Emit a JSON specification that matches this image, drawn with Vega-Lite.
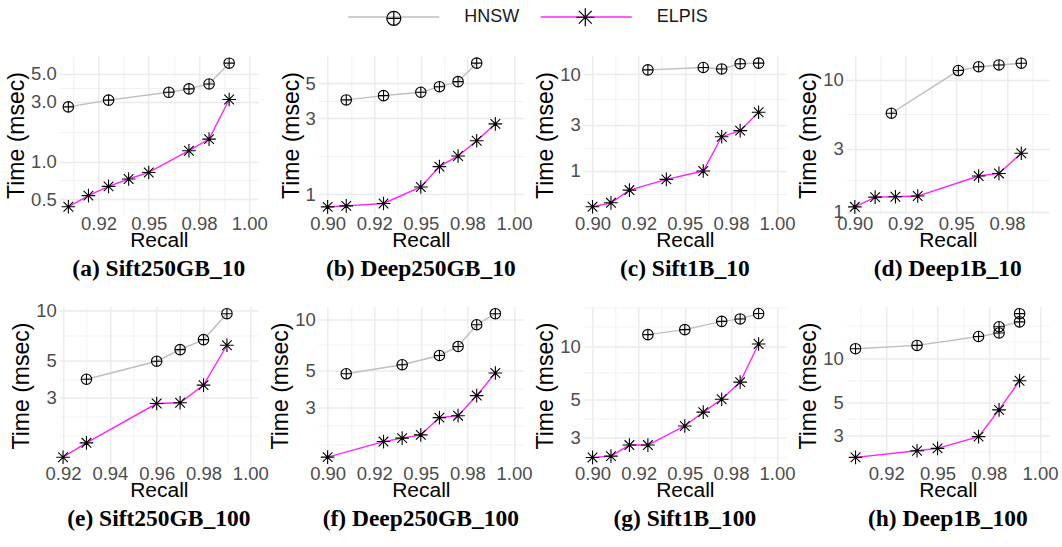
{
  "$schema": "https://vega.github.io/schema/vega-lite/v6.json",
  "background": "white",
  "padding": {"left": 5.3, "top": 8, "right": 0, "bottom": 0},
  "autosize": {"type": "pad"},
  "datasets": {
    "a": [
      {"recall": 0.91, "time": 2.73, "method": "HNSW"},
      {"recall": 0.93, "time": 3.09, "method": "HNSW"},
      {"recall": 0.96, "time": 3.57, "method": "HNSW"},
      {"recall": 0.97, "time": 3.80, "method": "HNSW"},
      {"recall": 0.98, "time": 4.16, "method": "HNSW"},
      {"recall": 0.99, "time": 6.1, "method": "HNSW"},
      {"recall": 0.91, "time": 0.435, "method": "ELPIS"},
      {"recall": 0.92, "time": 0.534, "method": "ELPIS"},
      {"recall": 0.93, "time": 0.633, "method": "ELPIS"},
      {"recall": 0.94, "time": 0.725, "method": "ELPIS"},
      {"recall": 0.95, "time": 0.818, "method": "ELPIS"},
      {"recall": 0.97, "time": 1.22, "method": "ELPIS"},
      {"recall": 0.98, "time": 1.51, "method": "ELPIS"},
      {"recall": 0.99, "time": 3.13, "method": "ELPIS"}
    ],
    "b": [
      {"recall": 0.91, "time": 3.92, "method": "HNSW"},
      {"recall": 0.93, "time": 4.17, "method": "HNSW"},
      {"recall": 0.95, "time": 4.38, "method": "HNSW"},
      {"recall": 0.96, "time": 4.75, "method": "HNSW"},
      {"recall": 0.97, "time": 5.11, "method": "HNSW"},
      {"recall": 0.98, "time": 6.68, "method": "HNSW"},
      {"recall": 0.90, "time": 0.832, "method": "ELPIS"},
      {"recall": 0.91, "time": 0.844, "method": "ELPIS"},
      {"recall": 0.93, "time": 0.874, "method": "ELPIS"},
      {"recall": 0.95, "time": 1.11, "method": "ELPIS"},
      {"recall": 0.96, "time": 1.49, "method": "ELPIS"},
      {"recall": 0.97, "time": 1.74, "method": "ELPIS"},
      {"recall": 0.98, "time": 2.17, "method": "ELPIS"},
      {"recall": 0.99, "time": 2.77, "method": "ELPIS"}
    ],
    "c": [
      {"recall": 0.93, "time": 11.06, "method": "HNSW"},
      {"recall": 0.96, "time": 11.7, "method": "HNSW"},
      {"recall": 0.97, "time": 11.3, "method": "HNSW"},
      {"recall": 0.98, "time": 12.8, "method": "HNSW"},
      {"recall": 0.99, "time": 12.97, "method": "HNSW"},
      {"recall": 0.90, "time": 0.424, "method": "ELPIS"},
      {"recall": 0.91, "time": 0.466, "method": "ELPIS"},
      {"recall": 0.92, "time": 0.631, "method": "ELPIS"},
      {"recall": 0.94, "time": 0.814, "method": "ELPIS"},
      {"recall": 0.96, "time": 0.993, "method": "ELPIS"},
      {"recall": 0.97, "time": 2.25, "method": "ELPIS"},
      {"recall": 0.98, "time": 2.60, "method": "ELPIS"},
      {"recall": 0.99, "time": 4.03, "method": "ELPIS"}
    ],
    "d": [
      {"recall": 0.918, "time": 5.56, "method": "HNSW"},
      {"recall": 0.951, "time": 11.7, "method": "HNSW"},
      {"recall": 0.961, "time": 12.5, "method": "HNSW"},
      {"recall": 0.971, "time": 12.9, "method": "HNSW"},
      {"recall": 0.982, "time": 13.3, "method": "HNSW"},
      {"recall": 0.90, "time": 1.09, "method": "ELPIS"},
      {"recall": 0.91, "time": 1.29, "method": "ELPIS"},
      {"recall": 0.92, "time": 1.30, "method": "ELPIS"},
      {"recall": 0.931, "time": 1.315, "method": "ELPIS"},
      {"recall": 0.961, "time": 1.865, "method": "ELPIS"},
      {"recall": 0.971, "time": 1.95, "method": "ELPIS"},
      {"recall": 0.982, "time": 2.77, "method": "ELPIS"}
    ],
    "e": [
      {"recall": 0.93, "time": 3.88, "method": "HNSW"},
      {"recall": 0.96, "time": 4.97, "method": "HNSW"},
      {"recall": 0.97, "time": 5.83, "method": "HNSW"},
      {"recall": 0.98, "time": 6.69, "method": "HNSW"},
      {"recall": 0.99, "time": 9.55, "method": "HNSW"},
      {"recall": 0.92, "time": 1.33, "method": "ELPIS"},
      {"recall": 0.93, "time": 1.62, "method": "ELPIS"},
      {"recall": 0.96, "time": 2.78, "method": "ELPIS"},
      {"recall": 0.97, "time": 2.81, "method": "ELPIS"},
      {"recall": 0.98, "time": 3.58, "method": "ELPIS"},
      {"recall": 0.99, "time": 6.19, "method": "ELPIS"}
    ],
    "f": [
      {"recall": 0.91, "time": 4.75, "method": "HNSW"},
      {"recall": 0.94, "time": 5.38, "method": "HNSW"},
      {"recall": 0.96, "time": 6.11, "method": "HNSW"},
      {"recall": 0.97, "time": 6.92, "method": "HNSW"},
      {"recall": 0.98, "time": 9.33, "method": "HNSW"},
      {"recall": 0.99, "time": 10.86, "method": "HNSW"},
      {"recall": 0.90, "time": 1.51, "method": "ELPIS"},
      {"recall": 0.93, "time": 1.87, "method": "ELPIS"},
      {"recall": 0.94, "time": 1.96, "method": "ELPIS"},
      {"recall": 0.95, "time": 2.05, "method": "ELPIS"},
      {"recall": 0.96, "time": 2.60, "method": "ELPIS"},
      {"recall": 0.97, "time": 2.67, "method": "ELPIS"},
      {"recall": 0.98, "time": 3.52, "method": "ELPIS"},
      {"recall": 0.99, "time": 4.80, "method": "ELPIS"}
    ],
    "g": [
      {"recall": 0.93, "time": 11.67, "method": "HNSW"},
      {"recall": 0.95, "time": 12.46, "method": "HNSW"},
      {"recall": 0.97, "time": 13.9, "method": "HNSW"},
      {"recall": 0.98, "time": 14.35, "method": "HNSW"},
      {"recall": 0.99, "time": 15.4, "method": "HNSW"},
      {"recall": 0.90, "time": 2.32, "method": "ELPIS"},
      {"recall": 0.91, "time": 2.36, "method": "ELPIS"},
      {"recall": 0.92, "time": 2.73, "method": "ELPIS"},
      {"recall": 0.93, "time": 2.73, "method": "ELPIS"},
      {"recall": 0.95, "time": 3.51, "method": "ELPIS"},
      {"recall": 0.96, "time": 4.21, "method": "ELPIS"},
      {"recall": 0.97, "time": 4.99, "method": "ELPIS"},
      {"recall": 0.98, "time": 6.25, "method": "ELPIS"},
      {"recall": 0.99, "time": 10.32, "method": "ELPIS"}
    ],
    "h": [
      {"recall": 0.91, "time": 11.57, "method": "HNSW"},
      {"recall": 0.94, "time": 12.18, "method": "HNSW"},
      {"recall": 0.97, "time": 14.0, "method": "HNSW"},
      {"recall": 0.98, "time": 14.8, "method": "HNSW"},
      {"recall": 0.98, "time": 16.3, "method": "HNSW"},
      {"recall": 0.99, "time": 17.6, "method": "HNSW"},
      {"recall": 0.99, "time": 20.0, "method": "HNSW"},
      {"recall": 0.91, "time": 2.12, "method": "ELPIS"},
      {"recall": 0.94, "time": 2.35, "method": "ELPIS"},
      {"recall": 0.95, "time": 2.44, "method": "ELPIS"},
      {"recall": 0.97, "time": 2.93, "method": "ELPIS"},
      {"recall": 0.98, "time": 4.45, "method": "ELPIS"},
      {"recall": 0.99, "time": 7.01, "method": "ELPIS"}
    ]
  },
  "columns": 4,
  "spacing": {"row": 92.5, "column": 60},
  "bounds": "flush",
  "align": "each",
  "resolve": {"scale": {"color": "shared", "shape": "shared"}},
  "concat": [
    {
      "width": 199, "height": 158, "data": {"name": "a"}, "title": "(a) Sift250GB_10",
      "encoding": {
        "x": {"field": "recall", "type": "quantitative", "title": "Recall", "scale": {"domain": [0.9055, 1.0045], "nice": false, "zero": false},
          "axis": {"values": [0.9125, 0.925, 0.9375, 0.95, 0.9625, 0.975, 0.9875, 1.0],
            "labelExpr": "datum.value == 0.9 ? '0.90' : datum.value == 0.925 ? '0.92' : datum.value == 0.95 ? '0.95' : datum.value == 0.975 ? '0.98' : datum.value == 1 ? '1.00' : ''",
            "gridWidth": {"condition": {"test": "indexof([0.9125, 0.9375, 0.9625, 0.9875], datum.value) >= 0", "value": 0.7}, "value": 1.4}}},
        "y": {"field": "time", "type": "quantitative", "title": "Time (msec)", "scale": {"type": "log", "domain": [0.381, 6.96], "nice": false},
          "axis": {"values": [0.5, 0.7071, 1, 1.7321, 3, 3.873, 5],
            "labelExpr": "datum.value == 0.5 ? '0.5' : datum.value == 1 ? '1.0' : datum.value == 3 ? '3.0' : datum.value == 5 ? '5.0' : ''",
            "gridWidth": {"condition": {"test": "indexof([0.7071, 1.7321, 3.873], datum.value) >= 0", "value": 0.7}, "value": 1.4}}}
      },
      "layer": [
        {"mark": {"type": "line", "strokeWidth": 1.4}, "encoding": {"color": {"field": "method", "type": "nominal", "scale": {"domain": ["HNSW", "ELPIS", "~"], "range": ["#bebebe", "#ff22ff", "#ffffff"]}, "legend": {"values": ["HNSW", "ELPIS"], "title": null, "orient": "none", "legendX": 325.5, "legendY": -48, "direction": "horizontal", "columns": 2, "symbolType": "M-6.5,0L6.5,0", "symbolSize": 196, "symbolStrokeWidth": 1.6, "labelOffset": 61.5, "columnPadding": 17.5, "padding": 0, "labelFont": "Liberation Sans", "labelFontSize": 18, "labelColor": "#1a1a1a"}}}},
        {"mark": {"type": "point", "filled": false, "size": 110, "color": "#000000", "strokeWidth": 1.1, "opacity": 1}, "encoding": {"shape": {"field": "method", "type": "nominal", "scale": {"domain": ["HNSW", "ELPIS"], "range": ["M-6.5,0L-6.49,0M6.49,0L6.5,0M-1,0A1,1,0,1,0,1,0A1,1,0,1,0,-1,0M-1,0L1,0M0,-1L0,1", "M-6.5,0L-6.49,0M6.49,0L6.5,0M-1.3,0L1.3,0M0,-1.3L0,1.3M-0.92,-0.92L0.92,0.92M-0.92,0.92L0.92,-0.92"]}, "legend": {"title": null, "orient": "none", "legendX": 325.5, "legendY": -48, "direction": "horizontal", "columns": 2, "symbolSize": 196, "symbolStrokeWidth": 1.2, "symbolStrokeColor": "#000000", "symbolFillColor": "transparent", "labelOffset": 61.5, "columnPadding": 17.5, "padding": 0, "labelFont": "Liberation Sans", "labelFontSize": 18, "labelOpacity": 0}}}}
      ]
    },
    {
      "width": 205, "height": 158, "data": {"name": "b"}, "title": "(b) Deep250GB_10",
      "encoding": {
        "x": {"field": "recall", "type": "quantitative", "title": "Recall", "scale": {"domain": [0.895, 1.005], "nice": false, "zero": false},
          "axis": {"values": [0.9, 0.9125, 0.925, 0.9375, 0.95, 0.9625, 0.975, 0.9875, 1.0],
            "labelExpr": "datum.value == 0.9 ? '0.90' : datum.value == 0.925 ? '0.92' : datum.value == 0.95 ? '0.95' : datum.value == 0.975 ? '0.98' : datum.value == 1 ? '1.00' : ''",
            "gridWidth": {"condition": {"test": "indexof([0.9125, 0.9375, 0.9625, 0.9875], datum.value) >= 0", "value": 0.7}, "value": 1.4}}},
        "y": {"field": "time", "type": "quantitative", "title": "Time (msec)", "scale": {"type": "log", "domain": [0.75, 7.41], "nice": false},
          "axis": {"values": [1, 1.7321, 3, 3.873, 5],
            "labelExpr": "indexof([1, 3, 5], datum.value) >= 0 ? format(datum.value, 'd') : ''",
            "gridWidth": {"condition": {"test": "indexof([1.7321, 3.873], datum.value) >= 0", "value": 0.7}, "value": 1.4}}}
      },
      "layer": [
        {"mark": {"type": "line", "strokeWidth": 1.4}, "encoding": {"color": {"field": "method", "type": "nominal", "scale": {"domain": ["HNSW", "ELPIS", "~"], "range": ["#bebebe", "#ff22ff", "#ffffff"]}, "legend": {"values": ["HNSW", "ELPIS"], "title": null, "orient": "none", "legendX": 325.5, "legendY": -48, "direction": "horizontal", "columns": 2, "symbolType": "M-6.5,0L6.5,0", "symbolSize": 196, "symbolStrokeWidth": 1.6, "labelOffset": 61.5, "columnPadding": 17.5, "padding": 0, "labelFont": "Liberation Sans", "labelFontSize": 18, "labelColor": "#1a1a1a"}}}},
        {"mark": {"type": "point", "filled": false, "size": 110, "color": "#000000", "strokeWidth": 1.1, "opacity": 1}, "encoding": {"shape": {"field": "method", "type": "nominal", "scale": {"domain": ["HNSW", "ELPIS"], "range": ["M-6.5,0L-6.49,0M6.49,0L6.5,0M-1,0A1,1,0,1,0,1,0A1,1,0,1,0,-1,0M-1,0L1,0M0,-1L0,1", "M-6.5,0L-6.49,0M6.49,0L6.5,0M-1.3,0L1.3,0M0,-1.3L0,1.3M-0.92,-0.92L0.92,0.92M-0.92,0.92L0.92,-0.92"]}, "legend": {"title": null, "orient": "none", "legendX": 325.5, "legendY": -48, "direction": "horizontal", "columns": 2, "symbolSize": 196, "symbolStrokeWidth": 1.2, "symbolStrokeColor": "#000000", "symbolFillColor": "transparent", "labelOffset": 61.5, "columnPadding": 17.5, "padding": 0, "labelFont": "Liberation Sans", "labelFontSize": 18, "labelOpacity": 0}}}}
      ]
    },
    {
      "width": 203, "height": 158, "data": {"name": "c"}, "title": "(c) Sift1B_10",
      "encoding": {
        "x": {"field": "recall", "type": "quantitative", "title": "Recall", "scale": {"domain": [0.895, 1.005], "nice": false, "zero": false},
          "axis": {"values": [0.9, 0.9125, 0.925, 0.9375, 0.95, 0.9625, 0.975, 0.9875, 1.0],
            "labelExpr": "datum.value == 0.9 ? '0.90' : datum.value == 0.925 ? '0.92' : datum.value == 0.95 ? '0.95' : datum.value == 0.975 ? '0.98' : datum.value == 1 ? '1.00' : ''",
            "gridWidth": {"condition": {"test": "indexof([0.9125, 0.9375, 0.9625, 0.9875], datum.value) >= 0", "value": 0.7}, "value": 1.4}}},
        "y": {"field": "time", "type": "quantitative", "title": "Time (msec)", "scale": {"type": "log", "domain": [0.357, 15.38], "nice": false},
          "axis": {"values": [0.5774, 1, 1.7321, 3, 5.4772, 10],
            "labelExpr": "indexof([1, 3, 10], datum.value) >= 0 ? format(datum.value, 'd') : ''",
            "gridWidth": {"condition": {"test": "indexof([0.5774, 1.7321, 5.4772], datum.value) >= 0", "value": 0.7}, "value": 1.4}}}
      },
      "layer": [
        {"mark": {"type": "line", "strokeWidth": 1.4}, "encoding": {"color": {"field": "method", "type": "nominal", "scale": {"domain": ["HNSW", "ELPIS", "~"], "range": ["#bebebe", "#ff22ff", "#ffffff"]}, "legend": {"values": ["HNSW", "ELPIS"], "title": null, "orient": "none", "legendX": 325.5, "legendY": -48, "direction": "horizontal", "columns": 2, "symbolType": "M-6.5,0L6.5,0", "symbolSize": 196, "symbolStrokeWidth": 1.6, "labelOffset": 61.5, "columnPadding": 17.5, "padding": 0, "labelFont": "Liberation Sans", "labelFontSize": 18, "labelColor": "#1a1a1a"}}}},
        {"mark": {"type": "point", "filled": false, "size": 110, "color": "#000000", "strokeWidth": 1.1, "opacity": 1}, "encoding": {"shape": {"field": "method", "type": "nominal", "scale": {"domain": ["HNSW", "ELPIS"], "range": ["M-6.5,0L-6.49,0M6.49,0L6.5,0M-1,0A1,1,0,1,0,1,0A1,1,0,1,0,-1,0M-1,0L1,0M0,-1L0,1", "M-6.5,0L-6.49,0M6.49,0L6.5,0M-1.3,0L1.3,0M0,-1.3L0,1.3M-0.92,-0.92L0.92,0.92M-0.92,0.92L0.92,-0.92"]}, "legend": {"title": null, "orient": "none", "legendX": 325.5, "legendY": -48, "direction": "horizontal", "columns": 2, "symbolSize": 196, "symbolStrokeWidth": 1.2, "symbolStrokeColor": "#000000", "symbolFillColor": "transparent", "labelOffset": 61.5, "columnPadding": 17.5, "padding": 0, "labelFont": "Liberation Sans", "labelFontSize": 18, "labelOpacity": 0}}}}
      ]
    },
    {
      "width": 203, "height": 158, "data": {"name": "d"}, "title": "(d) Deep1B_10",
      "encoding": {
        "x": {"field": "recall", "type": "quantitative", "title": "Recall", "scale": {"domain": [0.8958, 0.9958], "nice": false, "zero": false},
          "axis": {"values": [0.9, 0.9125, 0.925, 0.9375, 0.95, 0.9625, 0.975, 0.9875],
            "labelExpr": "datum.value == 0.9 ? '0.90' : datum.value == 0.925 ? '0.92' : datum.value == 0.95 ? '0.95' : datum.value == 0.975 ? '0.98' : datum.value == 1 ? '1.00' : ''",
            "gridWidth": {"condition": {"test": "indexof([0.9125, 0.9375, 0.9625, 0.9875], datum.value) >= 0", "value": 0.7}, "value": 1.4}}},
        "y": {"field": "time", "type": "quantitative", "title": "Time (msec)", "scale": {"type": "log", "domain": [0.962, 15.07], "nice": false},
          "axis": {"values": [1, 1.7321, 3, 5.4772, 10],
            "labelExpr": "indexof([1, 3, 10], datum.value) >= 0 ? format(datum.value, 'd') : ''",
            "gridWidth": {"condition": {"test": "indexof([1.7321, 5.4772], datum.value) >= 0", "value": 0.7}, "value": 1.4}}}
      },
      "layer": [
        {"mark": {"type": "line", "strokeWidth": 1.4}, "encoding": {"color": {"field": "method", "type": "nominal", "scale": {"domain": ["HNSW", "ELPIS", "~"], "range": ["#bebebe", "#ff22ff", "#ffffff"]}, "legend": {"values": ["HNSW", "ELPIS"], "title": null, "orient": "none", "legendX": 325.5, "legendY": -48, "direction": "horizontal", "columns": 2, "symbolType": "M-6.5,0L6.5,0", "symbolSize": 196, "symbolStrokeWidth": 1.6, "labelOffset": 61.5, "columnPadding": 17.5, "padding": 0, "labelFont": "Liberation Sans", "labelFontSize": 18, "labelColor": "#1a1a1a"}}}},
        {"mark": {"type": "point", "filled": false, "size": 110, "color": "#000000", "strokeWidth": 1.1, "opacity": 1}, "encoding": {"shape": {"field": "method", "type": "nominal", "scale": {"domain": ["HNSW", "ELPIS"], "range": ["M-6.5,0L-6.49,0M6.49,0L6.5,0M-1,0A1,1,0,1,0,1,0A1,1,0,1,0,-1,0M-1,0L1,0M0,-1L0,1", "M-6.5,0L-6.49,0M6.49,0L6.5,0M-1.3,0L1.3,0M0,-1.3L0,1.3M-0.92,-0.92L0.92,0.92M-0.92,0.92L0.92,-0.92"]}, "legend": {"title": null, "orient": "none", "legendX": 325.5, "legendY": -48, "direction": "horizontal", "columns": 2, "symbolSize": 196, "symbolStrokeWidth": 1.2, "symbolStrokeColor": "#000000", "symbolFillColor": "transparent", "labelOffset": 61.5, "columnPadding": 17.5, "padding": 0, "labelFont": "Liberation Sans", "labelFontSize": 18, "labelOpacity": 0}}}}
      ]
    },
    {
      "width": 199, "height": 158, "data": {"name": "e"}, "title": "(e) Sift250GB_100",
      "encoding": {
        "x": {"field": "recall", "type": "quantitative", "title": "Recall", "scale": {"domain": [0.9184, 1.0034], "nice": false, "zero": false},
          "axis": {"values": [0.92, 0.93, 0.94, 0.95, 0.96, 0.97, 0.98, 0.99, 1.0],
            "labelExpr": "indexof([0.92, 0.94, 0.96, 0.98, 1], datum.value) >= 0 ? format(datum.value, '.2f') : ''",
            "gridWidth": {"condition": {"test": "indexof([0.93, 0.95, 0.97, 0.99], datum.value) >= 0", "value": 0.7}, "value": 1.4}}},
        "y": {"field": "time", "type": "quantitative", "title": "Time (msec)", "scale": {"type": "log", "domain": [1.203, 10.54], "nice": false},
          "axis": {"values": [1.8, 2.3238, 3, 3.873, 5, 7.0711, 10],
            "labelExpr": "indexof([3, 5, 10], datum.value) >= 0 ? format(datum.value, 'd') : ''",
            "gridWidth": {"condition": {"test": "indexof([1.8, 2.3238, 3.873, 7.0711], datum.value) >= 0", "value": 0.7}, "value": 1.4}}}
      },
      "layer": [
        {"mark": {"type": "line", "strokeWidth": 1.4}, "encoding": {"color": {"field": "method", "type": "nominal", "scale": {"domain": ["HNSW", "ELPIS", "~"], "range": ["#bebebe", "#ff22ff", "#ffffff"]}, "legend": {"values": ["HNSW", "ELPIS"], "title": null, "orient": "none", "legendX": 325.5, "legendY": -48, "direction": "horizontal", "columns": 2, "symbolType": "M-6.5,0L6.5,0", "symbolSize": 196, "symbolStrokeWidth": 1.6, "labelOffset": 61.5, "columnPadding": 17.5, "padding": 0, "labelFont": "Liberation Sans", "labelFontSize": 18, "labelColor": "#1a1a1a"}}}},
        {"mark": {"type": "point", "filled": false, "size": 110, "color": "#000000", "strokeWidth": 1.1, "opacity": 1}, "encoding": {"shape": {"field": "method", "type": "nominal", "scale": {"domain": ["HNSW", "ELPIS"], "range": ["M-6.5,0L-6.49,0M6.49,0L6.5,0M-1,0A1,1,0,1,0,1,0A1,1,0,1,0,-1,0M-1,0L1,0M0,-1L0,1", "M-6.5,0L-6.49,0M6.49,0L6.5,0M-1.3,0L1.3,0M0,-1.3L0,1.3M-0.92,-0.92L0.92,0.92M-0.92,0.92L0.92,-0.92"]}, "legend": {"title": null, "orient": "none", "legendX": 325.5, "legendY": -48, "direction": "horizontal", "columns": 2, "symbolSize": 196, "symbolStrokeWidth": 1.2, "symbolStrokeColor": "#000000", "symbolFillColor": "transparent", "labelOffset": 61.5, "columnPadding": 17.5, "padding": 0, "labelFont": "Liberation Sans", "labelFontSize": 18, "labelOpacity": 0}}}}
      ]
    },
    {
      "width": 205, "height": 158, "data": {"name": "f"}, "title": "(f) Deep250GB_100",
      "encoding": {
        "x": {"field": "recall", "type": "quantitative", "title": "Recall", "scale": {"domain": [0.895, 1.005], "nice": false, "zero": false},
          "axis": {"values": [0.9, 0.9125, 0.925, 0.9375, 0.95, 0.9625, 0.975, 0.9875, 1.0],
            "labelExpr": "datum.value == 0.9 ? '0.90' : datum.value == 0.925 ? '0.92' : datum.value == 0.95 ? '0.95' : datum.value == 0.975 ? '0.98' : datum.value == 1 ? '1.00' : ''",
            "gridWidth": {"condition": {"test": "indexof([0.9125, 0.9375, 0.9625, 0.9875], datum.value) >= 0", "value": 0.7}, "value": 1.4}}},
        "y": {"field": "time", "type": "quantitative", "title": "Time (msec)", "scale": {"type": "log", "domain": [1.364, 11.99], "nice": false},
          "axis": {"values": [1.8, 2.3238, 3, 3.873, 5, 7.0711, 10],
            "labelExpr": "indexof([3, 5, 10], datum.value) >= 0 ? format(datum.value, 'd') : ''",
            "gridWidth": {"condition": {"test": "indexof([1.8, 2.3238, 3.873, 7.0711], datum.value) >= 0", "value": 0.7}, "value": 1.4}}}
      },
      "layer": [
        {"mark": {"type": "line", "strokeWidth": 1.4}, "encoding": {"color": {"field": "method", "type": "nominal", "scale": {"domain": ["HNSW", "ELPIS", "~"], "range": ["#bebebe", "#ff22ff", "#ffffff"]}, "legend": {"values": ["HNSW", "ELPIS"], "title": null, "orient": "none", "legendX": 325.5, "legendY": -48, "direction": "horizontal", "columns": 2, "symbolType": "M-6.5,0L6.5,0", "symbolSize": 196, "symbolStrokeWidth": 1.6, "labelOffset": 61.5, "columnPadding": 17.5, "padding": 0, "labelFont": "Liberation Sans", "labelFontSize": 18, "labelColor": "#1a1a1a"}}}},
        {"mark": {"type": "point", "filled": false, "size": 110, "color": "#000000", "strokeWidth": 1.1, "opacity": 1}, "encoding": {"shape": {"field": "method", "type": "nominal", "scale": {"domain": ["HNSW", "ELPIS"], "range": ["M-6.5,0L-6.49,0M6.49,0L6.5,0M-1,0A1,1,0,1,0,1,0A1,1,0,1,0,-1,0M-1,0L1,0M0,-1L0,1", "M-6.5,0L-6.49,0M6.49,0L6.5,0M-1.3,0L1.3,0M0,-1.3L0,1.3M-0.92,-0.92L0.92,0.92M-0.92,0.92L0.92,-0.92"]}, "legend": {"title": null, "orient": "none", "legendX": 325.5, "legendY": -48, "direction": "horizontal", "columns": 2, "symbolSize": 196, "symbolStrokeWidth": 1.2, "symbolStrokeColor": "#000000", "symbolFillColor": "transparent", "labelOffset": 61.5, "columnPadding": 17.5, "padding": 0, "labelFont": "Liberation Sans", "labelFontSize": 18, "labelOpacity": 0}}}}
      ]
    },
    {
      "width": 203, "height": 158, "data": {"name": "g"}, "title": "(g) Sift1B_100",
      "encoding": {
        "x": {"field": "recall", "type": "quantitative", "title": "Recall", "scale": {"domain": [0.895, 1.005], "nice": false, "zero": false},
          "axis": {"values": [0.9, 0.9125, 0.925, 0.9375, 0.95, 0.9625, 0.975, 0.9875, 1.0],
            "labelExpr": "datum.value == 0.9 ? '0.90' : datum.value == 0.925 ? '0.92' : datum.value == 0.95 ? '0.95' : datum.value == 0.975 ? '0.98' : datum.value == 1 ? '1.00' : ''",
            "gridWidth": {"condition": {"test": "indexof([0.9125, 0.9375, 0.9625, 0.9875], datum.value) >= 0", "value": 0.7}, "value": 1.4}}},
        "y": {"field": "time", "type": "quantitative", "title": "Time (msec)", "scale": {"type": "log", "domain": [2.114, 16.9], "nice": false},
          "axis": {"values": [2.3238, 3, 3.873, 5, 7.0711, 10, 12.91, 16.667],
            "labelExpr": "indexof([3, 5, 10], datum.value) >= 0 ? format(datum.value, 'd') : ''",
            "gridWidth": {"condition": {"test": "indexof([2.3238, 3.873, 7.0711, 12.91, 16.667], datum.value) >= 0", "value": 0.7}, "value": 1.4}}}
      },
      "layer": [
        {"mark": {"type": "line", "strokeWidth": 1.4}, "encoding": {"color": {"field": "method", "type": "nominal", "scale": {"domain": ["HNSW", "ELPIS", "~"], "range": ["#bebebe", "#ff22ff", "#ffffff"]}, "legend": {"values": ["HNSW", "ELPIS"], "title": null, "orient": "none", "legendX": 325.5, "legendY": -48, "direction": "horizontal", "columns": 2, "symbolType": "M-6.5,0L6.5,0", "symbolSize": 196, "symbolStrokeWidth": 1.6, "labelOffset": 61.5, "columnPadding": 17.5, "padding": 0, "labelFont": "Liberation Sans", "labelFontSize": 18, "labelColor": "#1a1a1a"}}}},
        {"mark": {"type": "point", "filled": false, "size": 110, "color": "#000000", "strokeWidth": 1.1, "opacity": 1}, "encoding": {"shape": {"field": "method", "type": "nominal", "scale": {"domain": ["HNSW", "ELPIS"], "range": ["M-6.5,0L-6.49,0M6.49,0L6.5,0M-1,0A1,1,0,1,0,1,0A1,1,0,1,0,-1,0M-1,0L1,0M0,-1L0,1", "M-6.5,0L-6.49,0M6.49,0L6.5,0M-1.3,0L1.3,0M0,-1.3L0,1.3M-0.92,-0.92L0.92,0.92M-0.92,0.92L0.92,-0.92"]}, "legend": {"title": null, "orient": "none", "legendX": 325.5, "legendY": -48, "direction": "horizontal", "columns": 2, "symbolSize": 196, "symbolStrokeWidth": 1.2, "symbolStrokeColor": "#000000", "symbolFillColor": "transparent", "labelOffset": 61.5, "columnPadding": 17.5, "padding": 0, "labelFont": "Liberation Sans", "labelFontSize": 18, "labelOpacity": 0}}}}
      ]
    },
    {
      "width": 203, "height": 158, "data": {"name": "h"}, "title": "(h) Deep1B_100",
      "encoding": {
        "x": {"field": "recall", "type": "quantitative", "title": "Recall", "scale": {"domain": [0.9055, 1.0045], "nice": false, "zero": false},
          "axis": {"values": [0.9125, 0.925, 0.9375, 0.95, 0.9625, 0.975, 0.9875, 1.0],
            "labelExpr": "datum.value == 0.9 ? '0.90' : datum.value == 0.925 ? '0.92' : datum.value == 0.95 ? '0.95' : datum.value == 0.975 ? '0.98' : datum.value == 1 ? '1.00' : ''",
            "gridWidth": {"condition": {"test": "indexof([0.9125, 0.9375, 0.9625, 0.9875], datum.value) >= 0", "value": 0.7}, "value": 1.4}}},
        "y": {"field": "time", "type": "quantitative", "title": "Time (msec)", "scale": {"type": "log", "domain": [1.896, 22.37], "nice": false},
          "axis": {"values": [2.3238, 3, 3.873, 5, 7.0711, 10, 12.91, 16.667],
            "labelExpr": "indexof([3, 5, 10], datum.value) >= 0 ? format(datum.value, 'd') : ''",
            "gridWidth": {"condition": {"test": "indexof([2.3238, 3.873, 7.0711, 12.91, 16.667], datum.value) >= 0", "value": 0.7}, "value": 1.4}}}
      },
      "layer": [
        {"mark": {"type": "line", "strokeWidth": 1.4}, "encoding": {"color": {"field": "method", "type": "nominal", "scale": {"domain": ["HNSW", "ELPIS", "~"], "range": ["#bebebe", "#ff22ff", "#ffffff"]}, "legend": {"values": ["HNSW", "ELPIS"], "title": null, "orient": "none", "legendX": 325.5, "legendY": -48, "direction": "horizontal", "columns": 2, "symbolType": "M-6.5,0L6.5,0", "symbolSize": 196, "symbolStrokeWidth": 1.6, "labelOffset": 61.5, "columnPadding": 17.5, "padding": 0, "labelFont": "Liberation Sans", "labelFontSize": 18, "labelColor": "#1a1a1a"}}}},
        {"mark": {"type": "point", "filled": false, "size": 110, "color": "#000000", "strokeWidth": 1.1, "opacity": 1}, "encoding": {"shape": {"field": "method", "type": "nominal", "scale": {"domain": ["HNSW", "ELPIS"], "range": ["M-6.5,0L-6.49,0M6.49,0L6.5,0M-1,0A1,1,0,1,0,1,0A1,1,0,1,0,-1,0M-1,0L1,0M0,-1L0,1", "M-6.5,0L-6.49,0M6.49,0L6.5,0M-1.3,0L1.3,0M0,-1.3L0,1.3M-0.92,-0.92L0.92,0.92M-0.92,0.92L0.92,-0.92"]}, "legend": {"title": null, "orient": "none", "legendX": 325.5, "legendY": -48, "direction": "horizontal", "columns": 2, "symbolSize": 196, "symbolStrokeWidth": 1.2, "symbolStrokeColor": "#000000", "symbolFillColor": "transparent", "labelOffset": 61.5, "columnPadding": 17.5, "padding": 0, "labelFont": "Liberation Sans", "labelFontSize": 18, "labelOpacity": 0}}}}
      ]
    }
  ],
  "config": {
    "font": "Liberation Sans",
    "view": {"stroke": null},
    "axis": {"domain": false, "ticks": false, "tickSize": 0, "grid": true, "gridColor": "#ebebeb", "labelFont": "Liberation Sans", "labelFontSize": 18.5, "labelColor": "#4d4d4d", "labelOverlap": false, "labelFlush": false, "titleFont": "Liberation Sans", "titleFontWeight": "normal", "titleColor": "#000000"},
    "axisX": {"labelPadding": 0, "titleFontSize": 21, "titlePadding": -3},
    "axisY": {"labelPadding": 3, "titleFontSize": 23, "titlePadding": 2},
    "title": {"orient": "bottom", "font": "Liberation Serif", "fontSize": 23.5, "fontWeight": "bold", "color": "#000000", "offset": 6.5, "anchor": "middle"}
  }
}
